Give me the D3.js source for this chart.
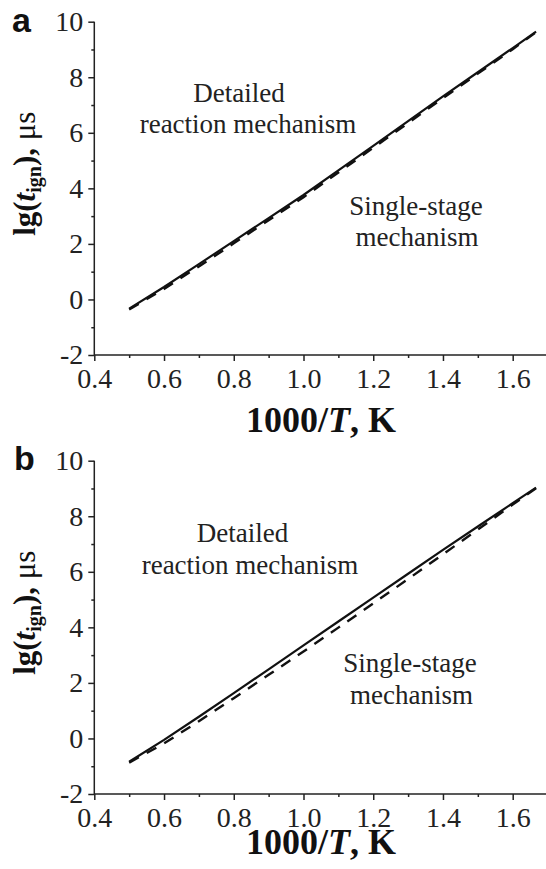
<!DOCTYPE html>
<html>
<head>
<meta charset="utf-8">
<script src="https://cdn.jsdelivr.net/npm/d3@7"></script>
<style>
  html, body { margin: 0; padding: 0; background: #fff; }
  svg { display: block; }
</style>
</head>
<body>
<svg id="chart" width="546" height="869"></svg>
<script>
// ---- data ----
const invT = [0.5, 0.6, 0.7, 0.8, 0.9, 1.0, 1.1, 1.2, 1.3, 1.4, 1.5, 1.6, 1.667];
const aDetailed = [-0.33, 0.45, 1.27, 2.10, 2.93, 3.76, 4.65, 5.53, 6.42, 7.31, 8.18, 9.05, 9.64];
const aSingle   = [-0.36, 0.38, 1.19, 2.02, 2.85, 3.68, 4.57, 5.46, 6.35, 7.25, 8.13, 9.01, 9.62];
const bDetailed = [-0.84, -0.05, 0.78, 1.63, 2.49, 3.35, 4.21, 5.07, 5.93, 6.79, 7.63, 8.47, 9.03];
const bSingle   = [-0.87, -0.18, 0.62, 1.45, 2.29, 3.13, 3.99, 4.86, 5.74, 6.63, 7.52, 8.42, 9.01];
const xMajor = [0.4, 0.6, 0.8, 1.0, 1.2, 1.4, 1.6];
const xMinor = [0.5, 0.7, 0.9, 1.1, 1.3, 1.5, 1.7];
const yMajor = [-2, 0, 2, 4, 6, 8, 10];
const yMinor = [-1, 1, 3, 5, 7, 9];
const xTickLabels = ["0.4", "0.6", "0.8", "1.0", "1.2", "1.4", "1.6"];
const yTickLabels = ["-2", "0", "2", "4", "6", "8", "10"];
const panelLetters = ["a", "b"];
const detailedLabel = ["Detailed", "reaction mechanism"];
const singleLabel = ["Single-stage", "mechanism"];

const svg = d3.select("#chart");
const serif = "'Liberation Serif', 'Times New Roman', Times, serif";
const sans = "'Liberation Sans', Arial, sans-serif";
const axisColor = "#222";

const x = d3.scaleLinear().domain([0.4, 1.6]).range([94.3, 512.7]);

const panels = [
  { letter: panelLetters[0], top: 21.7, bottom: 355, detailed: aDetailed, single: aSingle,
    letterPos: [12, 31.5],
    detPos: [[239, 101.7], [248, 133]], singPos: [[416, 214.5], [417, 246]], xTitleY: 432.3 },
  { letter: panelLetters[1], top: 460.7, bottom: 794, detailed: bDetailed, single: bSingle,
    letterPos: [14, 470],
    detPos: [[242.5, 541.5], [250, 574]], singPos: [[410, 671.5], [411.5, 703.5]], xTitleY: 854 }
];

panels.forEach(p => {
  const y = d3.scaleLinear().domain([-2, 10]).range([p.bottom, p.top]);
  const g = svg.append("g");

  g.append("line")
    .attr("x1", x(0.4)).attr("x2", 546)
    .attr("y1", p.bottom).attr("y2", p.bottom)
    .attr("stroke", axisColor).attr("stroke-width", 1.5);
  g.append("line")
    .attr("x1", x(0.4)).attr("x2", x(0.4))
    .attr("y1", y(-2)).attr("y2", y(10))
    .attr("stroke", axisColor).attr("stroke-width", 1.5);

  const xAx = g.append("g").attr("transform", `translate(0,${p.bottom})`)
    .call(d3.axisBottom(x).tickValues(xMajor).tickSize(6).tickPadding(7)
      .tickFormat((d, i) => xTickLabels[i]));
  const xAxm = g.append("g").attr("transform", `translate(0,${p.bottom})`)
    .call(d3.axisBottom(x).tickValues(xMinor).tickSize(3).tickFormat(""));
  const yAx = g.append("g").attr("transform", `translate(${x(0.4)},0)`)
    .call(d3.axisLeft(y).tickValues(yMajor).tickSize(6).tickPadding(5)
      .tickFormat((d, i) => yTickLabels[i]));
  const yAxm = g.append("g").attr("transform", `translate(${x(0.4)},0)`)
    .call(d3.axisLeft(y).tickValues(yMinor).tickSize(3).tickFormat(""));

  [xAx, xAxm, yAx, yAxm].forEach(a => {
    a.attr("font-family", null).attr("font-size", null);
    a.select(".domain").remove();
    a.selectAll("line").attr("stroke", axisColor).attr("stroke-width", 1.5);
    a.selectAll("text").attr("fill", "#222")
      .style("font-family", serif).style("font-size", "28px");
  });

  const line = d3.line().x((d, i) => x(invT[i])).y(d => y(d));
  g.append("path").datum(p.single)
    .attr("d", line).attr("fill", "none")
    .attr("stroke", "#111").attr("stroke-width", 2.4)
    .attr("stroke-dasharray", "11,9");
  g.append("path").datum(p.detailed)
    .attr("d", line).attr("fill", "none")
    .attr("stroke", "#111").attr("stroke-width", 2.2);

  const ann = (txt, pos) => g.append("text")
    .attr("x", pos[0]).attr("y", pos[1])
    .attr("text-anchor", "middle")
    .style("font-family", serif).style("font-size", "27px")
    .attr("fill", "#222").text(txt);
  ann(detailedLabel[0], p.detPos[0]);
  ann(detailedLabel[1], p.detPos[1]);
  ann(singleLabel[0], p.singPos[0]);
  ann(singleLabel[1], p.singPos[1]);

  g.append("text").attr("x", p.letterPos[0]).attr("y", p.letterPos[1])
    .style("font-family", sans).style("font-size", "34px").style("font-weight", "bold")
    .attr("fill", "#111").text(p.letter);

  const xt = g.append("text").attr("x", 321).attr("y", p.xTitleY)
    .attr("text-anchor", "middle")
    .style("font-family", serif).style("font-size", "36px").style("font-weight", "bold")
    .attr("fill", "#111");
  xt.append("tspan").text("1000/");
  xt.append("tspan").style("font-style", "italic").text("T");
  xt.append("tspan").text(", K");

  const cy = p.top + 152;
  const yt = g.append("text")
    .attr("transform", `translate(35,${cy}) rotate(-90)`)
    .attr("text-anchor", "middle")
    .style("font-family", serif).style("font-size", "31px").style("font-weight", "bold")
    .attr("fill", "#111");
  yt.append("tspan").text("lg(");
  yt.append("tspan").style("font-style", "italic").text("t");
  yt.append("tspan").attr("dy", 6).style("font-size", "20px").text("ign");
  yt.append("tspan").attr("dy", -6).text("), ");
  yt.append("tspan").style("font-weight", "normal").text("μs");
});
</script>
</body>
</html>
